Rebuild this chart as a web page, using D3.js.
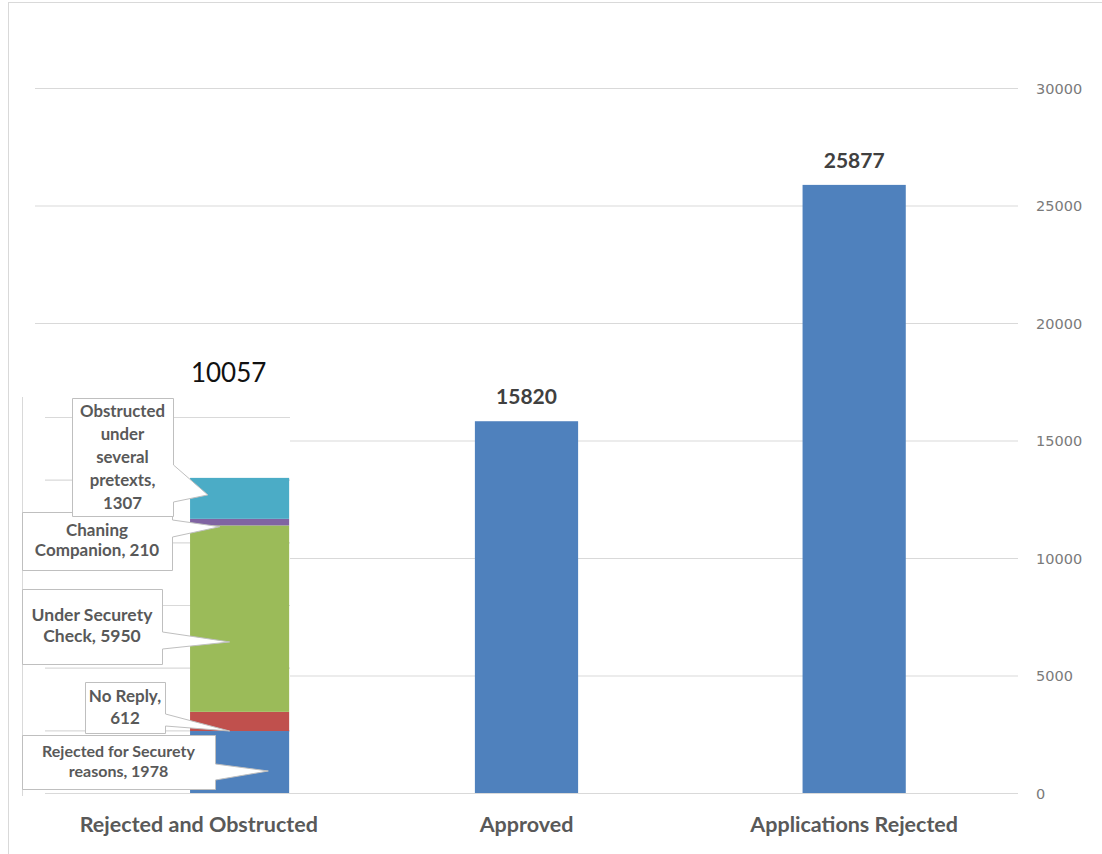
<!DOCTYPE html>
<html>
<head>
<meta charset="utf-8">
<script src="https://cdn.jsdelivr.net/npm/d3@7/dist/d3.min.js"></script>
<style>
  html, body { margin: 0; padding: 0; background: #fff; }
  svg { display: block; }
</style>
</head>
<body>
<svg id="chart" width="1102" height="854"></svg>
<script>
// ---- data ----
const categories = ["Rejected and Obstructed", "Approved", "Applications Rejected"];
const totals = [10057, 15820, 25877];
const yTicks = [0, 5000, 10000, 15000, 20000, 25000, 30000];

const stackNames = ["Rejected for Securety reasons", "No Reply", "Under Securety Check", "Chaning Companion", "Obstructed under several pretexts"];
const stackValues = [1978, 612, 5950, 210, 1307];
const stackLabelLines = [
  ["Rejected for Securety", "reasons, 1978"],
  ["No Reply,", "612"],
  ["Under Securety", "Check, 5950"],
  ["Chaning", "Companion,  210"],
  ["Obstructed", "under", "several", "pretexts,", "1307"]
];
const insetTicks = [0, 2000, 4000, 6000, 8000, 10000, 12000];
const insetMax = 22500;

// ---- styling / layout ----
const stackColors = ["#4f81bd", "#c0504d", "#9bbb59", "#8064a2", "#4bacc6"];
const barColor = "#4f81bd";
const gridColor = "#d9d9d9";
const FONT = "Lato, 'Open Sans', sans-serif";

// callout layout: box + wedge base on right edge + tip position as fraction of segment / bar width
const callouts = [
  { x: 22, y: 735, w: 193, h: 54, b1: 764, b2: 780, fx: 0.79, fy: 0.355, size: 16, lh: 20 },
  { x: 85, y: 682, w: 80, h: 51, b1: 714, b2: 726, fx: 0.40, fy: 0.0, size: 17, lh: 22 },
  { x: 22, y: 589, w: 140, h: 75, b1: 632, b2: 649, fx: 0.40, fy: 0.375, size: 17.5, lh: 21 },
  { x: 22, y: 512, w: 150, h: 58, b1: 520, b2: 537, fx: 0.30, fy: -0.2, size: 17, lh: 20 },
  { x: 72, y: 398, w: 101, h: 118, b1: 465, b2: 502, fx: 0.18, fy: 0.585, size: 16.8, lh: 23 }
];

const svg = d3.select("#chart");

// outer frame
svg.append("rect").attr("x", 8.5).attr("y", 2.5).attr("width", 1200).attr("height", 900)
  .attr("fill", "none").attr("stroke", gridColor);

// ---- scales ----
const y = d3.scaleLinear().domain([0, 30000]).range([793, 88]);
const yInset = d3.scaleLinear().domain([0, insetMax]).range([793, 88]);
const x = d3.scaleBand().domain(categories).range([35, 1018]).paddingInner(0.685).paddingOuter(0.3425);

// ---- main grid + axis ----
const axis = d3.axisRight(y).tickValues(yTicks).tickSize(-(1018 - 35)).tickPadding(18).tickFormat(d3.format("d"));
const gAxis = svg.append("g").attr("transform", "translate(1018,0)").call(axis);
gAxis.select(".domain").remove();
gAxis.selectAll(".tick line").attr("stroke", gridColor).attr("stroke-width", 1.2);
gAxis.selectAll(".tick text").attr("fill", "#7a7a7a").attr("font-family", "'DejaVu Sans', sans-serif")
  .attr("font-size", 14.5).attr("dy", "0.35em");

// ---- main bars (Approved, Applications Rejected) ----
const mainData = categories.map((c, i) => ({ c, v: totals[i] })).slice(1);
svg.append("g").selectAll("rect").data(mainData).join("rect")
  .attr("x", d => x(d.c)).attr("width", x.bandwidth())
  .attr("y", d => y(d.v)).attr("height", d => y(0) - y(d.v))
  .attr("fill", barColor);

svg.append("g").selectAll("text").data(mainData).join("text")
  .attr("x", d => x(d.c) + x.bandwidth() / 2).attr("y", d => y(d.v) - 17)
  .attr("text-anchor", "middle").attr("font-family", FONT).attr("font-weight", 700)
  .attr("font-size", 21).attr("fill", "#404040").text(d => d.v);

// ---- inset (stacked breakdown) ----
const inset = svg.append("g");
const insetLeft = 22, insetRight = 290;
inset.append("rect").attr("x", insetLeft).attr("y", 396).attr("width", insetRight - insetLeft).attr("height", 404)
  .attr("fill", "#fff");
inset.append("line").attr("x1", insetLeft + 0.5).attr("x2", insetLeft + 0.5).attr("y1", 397).attr("y2", 796)
  .attr("stroke", gridColor);
inset.selectAll("line.ig").data(insetTicks).join("line").attr("class", "ig")
  .attr("x1", 45).attr("x2", insetRight).attr("y1", d => yInset(d) + 0.5).attr("y2", d => yInset(d) + 0.5)
  .attr("stroke", gridColor).attr("stroke-width", 1.2);

const stackX = x(categories[0]) + x.bandwidth() * 0.415;
const stackW = x.bandwidth() * 0.96;
let cum = 0;
const segs = stackValues.map((v, i) => { const s = { i, v, y0: cum, y1: cum + v }; cum += v; return s; });

inset.selectAll("rect.seg").data(segs).join("rect").attr("class", "seg")
  .attr("x", stackX).attr("width", stackW)
  .attr("y", d => yInset(d.y1)).attr("height", d => yInset(d.y0) - yInset(d.y1))
  .attr("fill", d => stackColors[d.i]);

inset.append("text").attr("x", stackX + stackW / 2 - 11).attr("y", yInset(cum) - 96)
  .attr("font-family", FONT).attr("font-size", 26).attr("fill", "#111").attr("text-anchor", "middle")
  .text(d3.sum(stackValues));

// callouts
segs.forEach(s => {
  const c = callouts[s.i];
  const tx = stackX + stackW * c.fx;
  const ty = yInset(s.y0 + s.v * c.fy);
  const r = c.x + c.w;
  const p = `M${c.x + 0.5},${c.y + 0.5} H${r + 0.5} V${c.b1} L${tx},${ty} L${r + 0.5},${c.b2} V${c.y + c.h + 0.5} H${c.x + 0.5} Z`;
  inset.append("path").attr("d", p).attr("fill", "#fff").attr("stroke", "#bfbfbf").attr("stroke-width", 1);
  const lines = stackLabelLines[s.i];
  const cx = c.x + c.w / 2;
  const totalH = lines.length * c.lh;
  const startY = c.y + (c.h - totalH) / 2 + c.lh * 0.74;
  const t = inset.append("text").attr("font-family", FONT).attr("font-weight", 700)
    .attr("font-size", c.size).attr("fill", "#595959").attr("text-anchor", "middle");
  lines.forEach((ln, k) => t.append("tspan").attr("x", cx).attr("y", startY + k * c.lh).text(ln));
});

// ---- category labels ----
svg.append("g").selectAll("text").data(categories).join("text")
  .attr("x", d => x(d) + x.bandwidth() / 2).attr("y", 832)
  .attr("text-anchor", "middle").attr("font-family", FONT).attr("font-weight", 700)
  .attr("font-size", 21.5).attr("fill", "#595959").text(d => d);
</script>
</body>
</html>
